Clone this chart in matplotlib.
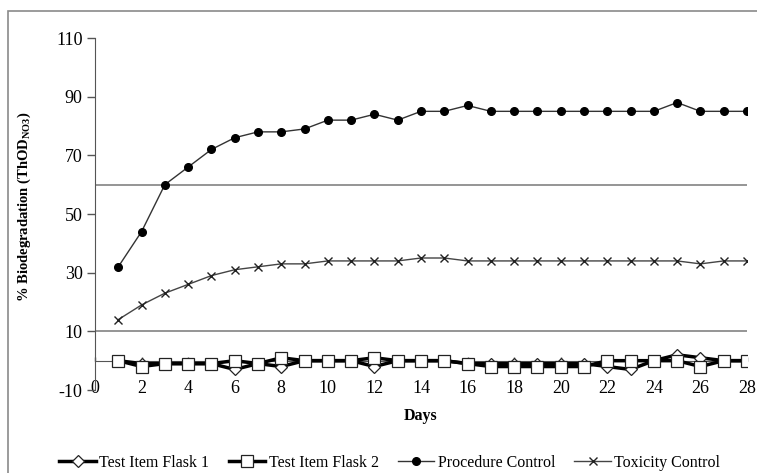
import matplotlib
matplotlib.use('Agg')
import matplotlib.pyplot as plt
from matplotlib.patches import Rectangle

plt.rcParams['font.family'] = ['Liberation Serif', 'DejaVu Serif']
plt.rcParams['mathtext.fontset'] = 'custom'
plt.rcParams['mathtext.rm'] = 'Liberation Serif'
plt.rcParams['mathtext.bf'] = 'Liberation Serif:bold'
plt.rcParams['axes.unicode_minus'] = False

# data
days = list(range(1, 29))
flask1 = [0, -1, -1, -1, -1, -3, -1, -2, 0, 0, 0, -2, 0, 0,
          0, -1, -1, -1, -1, -1, -1, -2, -3, 0, 2, 1, 0, 0]
flask2 = [0, -2, -1, -1, -1, 0, -1, 1, 0, 0, 0, 1, 0, 0,
          0, -1, -2, -2, -2, -2, -2, 0, 0, 0, 0, -2, 0, 0]
procedure = [32, 44, 60, 66, 72, 76, 78, 78, 79, 82, 82, 84, 82, 85,
             85, 87, 85, 85, 85, 85, 85, 85, 85, 85, 88, 85, 85, 85]
toxicity = [14, 19, 23, 26, 29, 31, 32, 33, 33, 34, 34, 34, 34, 35,
            35, 34, 34, 34, 34, 34, 34, 34, 34, 34, 34, 33, 34, 34]
ref_levels = [60, 10]
y_ticks = [-10, 10, 30, 50, 70, 90, 110]
x_ticks = list(range(0, 29, 2))

fig = plt.figure(figsize=(7.57, 4.73), dpi=100)
ax = fig.add_axes([95 / 757, 1 - 390 / 473, 652 / 757, 352 / 473])

# outer chart frame (cropped on right and bottom)
fig.add_artist(Rectangle((8 / 757, -0.2), 1.2, 1.2 - 11 / 473, transform=fig.transFigure,
                         fill=False, edgecolor='#8a8a8a', linewidth=1.2, clip_on=False))

for lvl in ref_levels:
    ax.axhline(lvl, color='#8c8c8c', linewidth=1.3, zorder=1)

ax.plot(days, toxicity, color='#444444', linewidth=1.0, marker='x', markersize=6,
        markeredgecolor='#222222', markeredgewidth=1.0, label='Toxicity Control', zorder=3)
ax.plot(days, procedure, color='#333333', linewidth=1.0, marker='o', markersize=5.5,
        markerfacecolor='black', markeredgecolor='black', label='Procedure Control', zorder=3)
ax.plot(days, flask1, color='black', linewidth=2.5, marker='D', markersize=6.5,
        markerfacecolor='white', markeredgecolor='#222222', markeredgewidth=0.9,
        label='Test Item Flask 1', zorder=4)
ax.plot(days, flask2, color='black', linewidth=2.5, marker='s', markersize=8,
        markerfacecolor='white', markeredgecolor='#222222', markeredgewidth=0.9,
        label='Test Item Flask 2', zorder=5)

ax.set_xlim(0, 28)
ax.set_ylim(-10, 110)
ax.set_xticks(x_ticks)
ax.set_yticks(y_ticks)
ax.spines['top'].set_visible(False)
ax.spines['right'].set_visible(False)
ax.spines['bottom'].set_position(('data', 0))
ax.spines['left'].set_color('#555555')
ax.spines['bottom'].set_color('#555555')
ax.tick_params(axis='y', direction='out', length=6, width=1, color='#555555',
               labelsize=13, pad=3)
ax.tick_params(axis='x', direction='in', length=3, width=1, color='#555555',
               labelsize=13, pad=14)

ax.set_xlabel('Days', fontsize=11.5, fontweight='bold')
ax.xaxis.set_label_coords(0.5, -0.05)
ax.set_ylabel(r'% Biodegradation (ThOD$_{\mathbf{NO3}}$)', fontsize=10.5, fontweight='bold')
ax.yaxis.set_label_coords(-0.095, 0.52)

handles, labels = ax.get_legend_handles_labels()
order = [2, 3, 1, 0]
fig.legend([handles[i] for i in order], [labels[i] for i in order],
           loc='center', bbox_to_anchor=(0.515, 1 - 463 / 473), ncol=4, frameon=False,
           fontsize=11.5, handlelength=2.3, handletextpad=0.2, columnspacing=1.2)

fig.savefig('out.png', dpi=100)
